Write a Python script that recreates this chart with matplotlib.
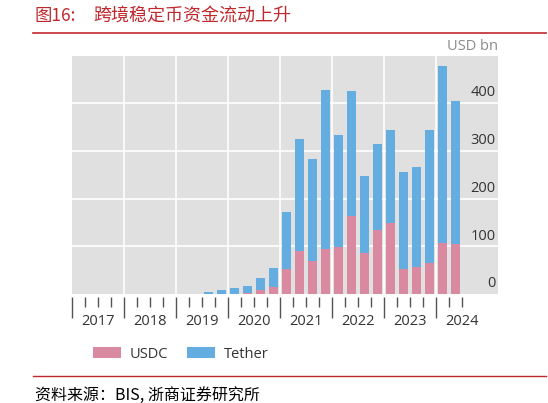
import numpy as np
import matplotlib
matplotlib.use("Agg")
import matplotlib.pyplot as plt
from matplotlib.transforms import blended_transform_factory, offset_copy

plt.rcParams['font.family'] = ['Open Sans', 'Noto Sans CJK SC', 'DejaVu Sans']

# quarterly data, 2019Q2 .. 2024Q2 (USD bn)
quarters = ["2019Q2", "2019Q3", "2019Q4",
            "2020Q1", "2020Q2", "2020Q3", "2020Q4",
            "2021Q1", "2021Q2", "2021Q3", "2021Q4",
            "2022Q1", "2022Q2", "2022Q3", "2022Q4",
            "2023Q1", "2023Q2", "2023Q3", "2023Q4",
            "2024Q1", "2024Q2"]
usdc = [0, 0, 0, 1, 2, 8, 14, 52, 91, 69, 94, 98, 163, 87, 135, 148, 52, 56, 66, 107, 104]
total = [1, 5, 8, 12.5, 16.5, 33, 55, 171.5, 326, 282, 428, 333, 426, 248, 315, 343, 255, 267, 343, 479, 405]
tether = [t - u for t, u in zip(total, usdc)]
years = [2017, 2018, 2019, 2020, 2021, 2022, 2023, 2024]
yticks = [0, 100, 200, 300, 400]

pink = '#d98aa0'
blue = '#63ade0'
red = '#c0282d'

x = np.array([int(q[:4]) + (int(q[-1]) - 1) * 0.25 + 0.125 for q in quarters])

fig = plt.figure(figsize=(5.48, 4.03), dpi=100)
ax = fig.add_axes([72/548, 1-294/403, 426/548, 238/403])
ax.set_facecolor('#e0e0e0')

bw = 0.19
ax.bar(x, usdc, width=bw, color=pink, label='USDC', zorder=3)
ax.bar(x, tether, width=bw, bottom=usdc, color=blue, label='Tether', zorder=3)

ax.set_xlim(2017, 2017 + 426/52)
ax.set_ylim(0, 499)

for yv in yticks[1:]:
    ax.axhline(yv, color='white', lw=1.2, zorder=1)
for yr in years[1:]:
    ax.axvline(yr, color='white', lw=1.2, zorder=1)

for s in ax.spines.values():
    s.set_visible(False)
ax.spines['bottom'].set_position(('outward', 2))
ax.set_yticks([])
ax.set_xticks(years)
ax.set_xticks(np.arange(2017, 2024.51, 0.25), minor=True)
ax.tick_params(axis='x', which='major', length=15, width=1, color='#555555',
               labelbottom=False)
ax.tick_params(axis='x', which='minor', length=7, width=1, color='#555555')

trx = blended_transform_factory(ax.transData, ax.transAxes)
for yr in years:
    ax.text(yr + 0.5, -0.1176, str(yr), transform=trx, ha='center', va='center',
            fontsize=10.5, color='#333333')

try_ = blended_transform_factory(ax.transAxes, ax.transData)
try_ = offset_copy(try_, fig=fig, y=2, units='points')
for yv in yticks:
    ax.text(0.995, yv, str(yv), transform=try_, ha='right', va='bottom',
            fontsize=10.5, color='#333333')

fig.text(498/548, 1-47/403, 'USD bn', ha='right', va='center', fontsize=10.5,
         color='#8a8a8a')

ax.legend(loc='center left', bbox_to_anchor=(80/548, 1-354/403),
          bbox_transform=fig.transFigure, ncol=2, frameon=False,
          fontsize=10.5, handlelength=1.9, handleheight=0.7,
          handletextpad=0.6, columnspacing=1.3, labelcolor='#333333')

cjk = ['Noto Sans CJK SC', 'DejaVu Sans']
fig.text(35/548, 1-16/403, '图16:', ha='left', va='center',
         fontsize=12.5, color=red, family=cjk)
fig.text(93/548, 1-16/403, '跨境稳定币资金流动上升', ha='left', va='center',
         fontsize=13, color=red, family=cjk)
fig.add_artist(plt.Line2D([33/548, 546/548], [1-33/403, 1-33/403], color=red, lw=1.2))
fig.add_artist(plt.Line2D([33/548, 546/548], [1-375.5/403, 1-375.5/403], color=red, lw=1.0))
fig.text(35/548, 1-395/403, '资料来源：BIS, 浙商证券研究所', ha='left', va='center',
         fontsize=11.5, color='black', family=cjk)

fig.savefig('out.png', dpi=100)
